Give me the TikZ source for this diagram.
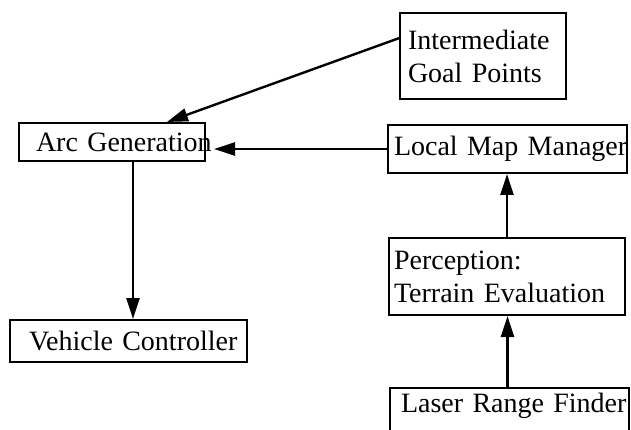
\documentclass[tikz,border=0pt]{standalone}
\usepackage{fontspec}
\setmainfont{Liberation Serif}
\usetikzlibrary{arrows.meta}
\begin{document}
\begin{tikzpicture}[x=1pt,y=-1pt,
  box/.style={draw,line width=2pt,rectangle,anchor=north west,align=left,
    font=\fontsize{28}{33}\selectfont,inner ysep=0pt},
  conn/.style={line width=2.4pt,-{Triangle[length=21pt,width=13pt]}}]
\useasboundingbox (0,0) rectangle (631,430);
\clip (0,0) rectangle (631,430);
\node[box,inner xsep=8pt,text width=150pt,minimum height=86pt] (goal) at (399,12) {\mbox{Intermediate}\\\mbox{Goal Points}};
\node[box,inner xsep=6pt,text width=227pt,minimum height=48pt] (lmm) at (387,124) {\mbox{Local Map Manager}};
\node[box,inner xsep=17pt,text width=152pt,minimum height=38pt] (arc) at (18,122) {\mbox{Arc Generation}};
\node[box,inner xsep=19pt,text width=199pt,minimum height=42pt] (veh) at (9,319) {\mbox{Vehicle Controller}};
\node[box,inner xsep=5pt,text width=226pt,minimum height=77pt] (perc) at (388,237) {\mbox{Perception:}\\\mbox{Terrain Evaluation}};
\node[box,inner xsep=11pt,text width=217pt,inner ysep=5pt,text height=19pt,text depth=32pt] (laser) at (389,387) {\mbox{Laser Range Finder}};
\draw[conn] (goal.168) -- (arc.20);
\draw[conn,shorten >=8pt] (lmm.west) -- (lmm.west -| arc.east);
\draw[conn] ([xshift=21pt]arc.south) -- ([xshift=21pt]arc.south |- veh.north);
\draw[conn] (perc.north) -- (perc.north |- lmm.south);
\draw[conn] ([xshift=-2pt]laser.north) -- ([xshift=-2pt]laser.north |- perc.south);
\end{tikzpicture}
\end{document}
